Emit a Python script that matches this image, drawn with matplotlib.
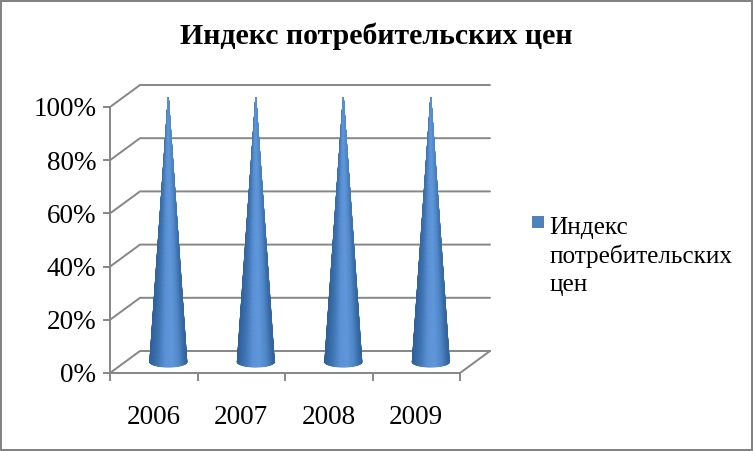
import numpy as np
import matplotlib
matplotlib.use("Agg")
import matplotlib.pyplot as plt
from matplotlib.patches import Rectangle, Patch
from matplotlib.legend_handler import HandlerPatch
from matplotlib.colors import LinearSegmentedColormap

title = "Индекс потребительских цен"
years = ["2006", "2007", "2008", "2009"]
values = [100, 100, 100, 100]
series_label = "Индекс\nпотребительских\nцен"
y_ticks = [0, 20, 40, 60, 80, 100]
y_labels = ["0%", "20%", "40%", "60%", "80%", "100%"]

W, H = 753, 451
L, R, B, T = 110, 460, 373, 107   # plot box in pixels
DX, DY = 30, 22                   # 3-D depth in pixels
GREY = "#868686"
FONT = "Liberation Serif"

plt.rcParams["font.family"] = FONT
fig = plt.figure(figsize=(W / 100, H / 100), dpi=100, facecolor="white")
ax = fig.add_axes([L / W, (H - B) / H, (R - L) / W, (B - T) / H])
ax.set_xlim(0, len(years))
ax.set_ylim(0, 100)
ax.patch.set_visible(False)

px_x = len(years) / (R - L)
px_y = 100 / (B - T)
dx, dy = DX * px_x, DY * px_y

for s in ("top", "right"):
    ax.spines[s].set_visible(False)
for s in ("left", "bottom"):
    ax.spines[s].set_color(GREY)
    ax.spines[s].set_linewidth(1.4)

# 3-D walls
line = dict(color=GREY, lw=1.4, clip_on=False, zorder=1, solid_capstyle="round")
for v in y_ticks:
    ax.plot([0, dx, len(years) + dx], [v, v + dy, v + dy], **line)
ax.plot([len(years), len(years) + dx], [0, dy], **line)

# Cones
cmap = LinearSegmentedColormap.from_list(
    "cone", ["#2f6099", "#3f74b2", "#5a90d4", "#6198dc", "#5088c8", "#32649e"])
R_px, B_px = 18.5, 5.0
theta = np.linspace(-np.pi / 2, np.pi / 2, 61)
frac = np.linspace(0, 1, 60)
TH, S = np.meshgrid(theta, frac)
for i, v in enumerate(values):
    cx = i + 0.5 + dx / 2 - 0.005
    X = cx + R_px * px_x * (1 - S) * np.sin(TH)
    Y = dy / 2 + v * S * 0.995 - B_px * px_y * (1 - S) * np.cos(TH)
    C = 0.5 + 0.5 * np.sin(TH) * (1 - 0.6 * S ** 2)
    ax.pcolormesh(X, Y, C, cmap=cmap, shading="gouraud", clip_on=False, zorder=3, vmin=0, vmax=1)

# Axes
ax.set_yticks(y_ticks, y_labels)
ax.set_xticks(np.arange(len(years) + 1), [""] * (len(years) + 1))
ax.set_xticks(np.arange(len(years)) + 0.5, years, minor=True)
ax.tick_params(axis="y", colors=GREY, labelcolor="black", length=5, width=1.4, labelsize=19.5, pad=5)
ax.tick_params(axis="x", which="major", colors=GREY, length=6, width=1.4)
ax.tick_params(axis="x", which="minor", length=0, labelsize=19.5, pad=23, labelcolor="black")

fig.text(376 / W, 1 - 36 / H, title, ha="center", va="center", fontsize=21.5, fontweight="bold")

# Legend
def top_swatch(legend, orig_handle, xdescent, ydescent, width, height, fontsize):
    return Rectangle((-xdescent, -ydescent + 26.4), 8.8, 8.8)

leg = fig.legend(handles=[Patch(facecolor="#4f81bd", label=series_label)],
                 loc="upper left", bbox_to_anchor=(532 / W, 1 - 217 / H),
                 bbox_transform=fig.transFigure, frameon=False, fontsize=18.2,
                 borderaxespad=0, borderpad=0, handlelength=0.5, handletextpad=0.18,
                 handler_map={Patch: HandlerPatch(patch_func=top_swatch)})
leg.get_texts()[0].set_linespacing(1.31)

# Outer frame
fig.add_artist(Rectangle((0.5 / W, 1.0 / H), (W - 1.5) / W, (H - 1.5) / H, transform=fig.transFigure,
                         fill=False, edgecolor="#808080", lw=1.4))
fig.savefig("out.png", dpi=100)
